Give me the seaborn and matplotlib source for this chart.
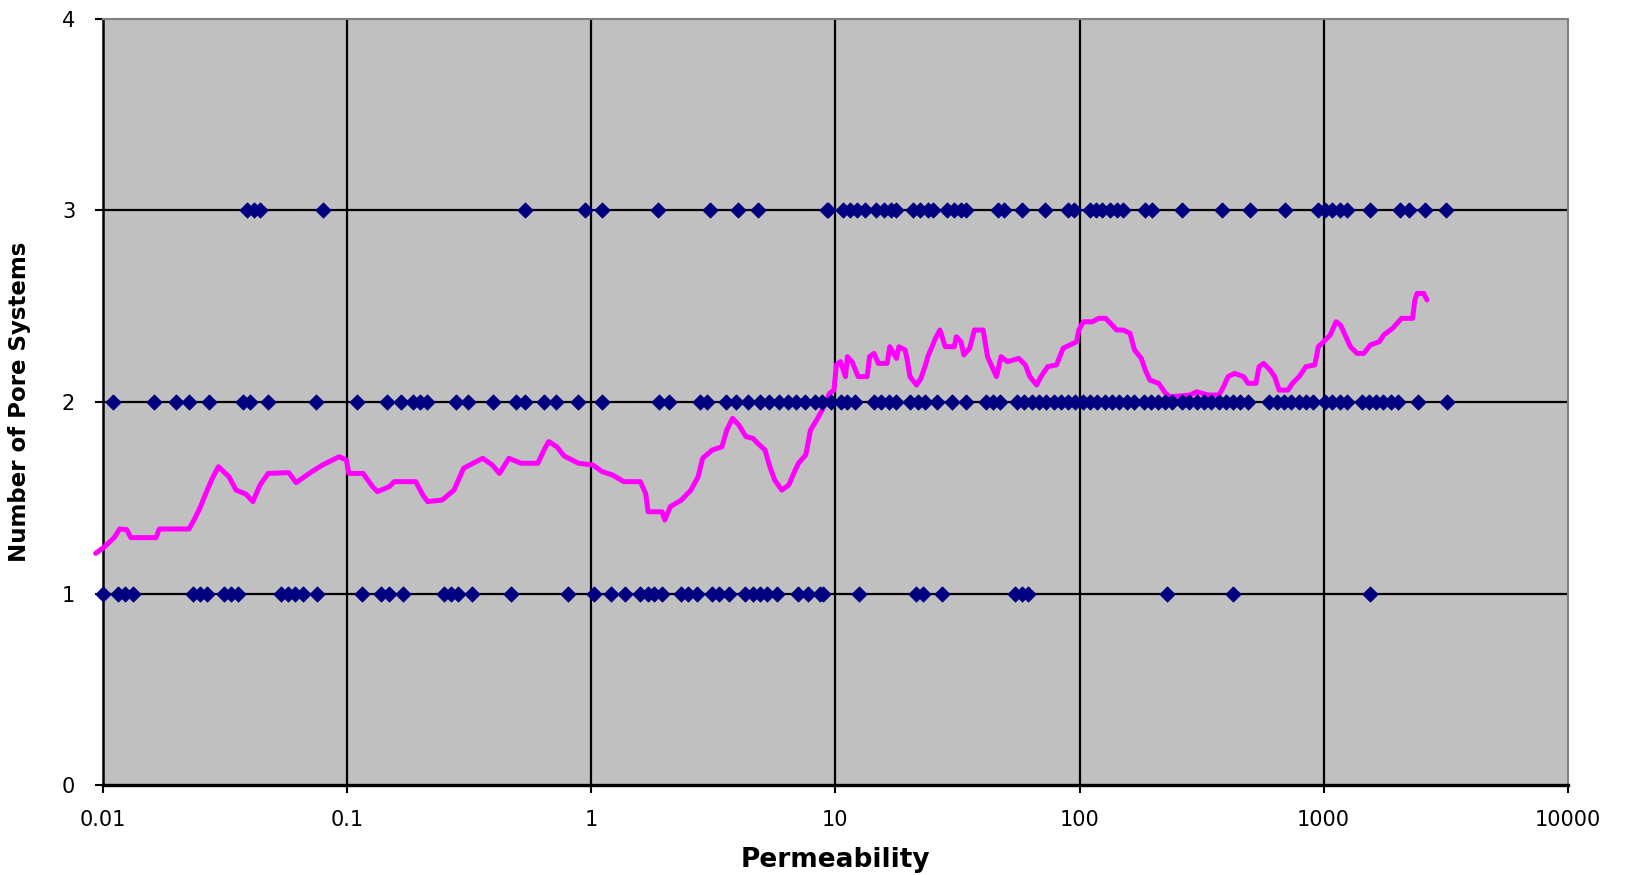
import numpy as np
import pandas as pd
import matplotlib
matplotlib.use("Agg")
import matplotlib.pyplot as plt
import seaborn as sns

# Permeability of samples, grouped by the number of pore systems counted
perm_three = [0.039, 0.0415, 0.0438, 0.080, 0.536, 0.944, 1.11, 1.88, 3.06, 4.0, 4.83, 9.2,
              9.34, 10.7, 11.5, 12.3, 13.2, 14.7, 15.8, 16.9, 17.7, 20.8, 22.3, 23.9, 25.0,
              28.6, 30.7, 32.8, 34.4, 46.3, 49.1, 58.2, 72.1, 89.9, 94.9, 110, 117, 124, 133,
              142, 150, 185, 198, 263, 385, 499, 697, 948, 1015, 1087, 1164, 1247, 1547,
              2062, 2229, 2592, 3157]
perm_two = [0.0110, 0.0162, 0.0199, 0.0226, 0.0272, 0.0374, 0.040, 0.0475, 0.0746, 0.110,
            0.145, 0.166, 0.186, 0.199, 0.212, 0.279, 0.312, 0.396, 0.490, 0.536, 0.642,
            0.719, 0.881, 1.11, 1.90, 2.08, 2.79, 2.98, 3.57, 3.91, 4.38, 4.90, 5.36, 5.87,
            6.42, 6.87, 7.52, 8.24, 8.81, 9.55, 10.5, 11.2, 12.0, 14.4, 15.4, 16.6, 17.7,
            20.3, 21.8, 23.3, 26.1, 30.0, 34.4, 41.3, 44.2, 47.3, 55.6, 59.5, 63.8, 68.3,
            73.1, 78.3, 83.9, 89.9, 96.2, 103, 110, 118, 127, 136, 145, 156, 167, 183, 196,
            209, 224, 240, 263, 282, 302, 323, 346, 371, 397, 425, 456, 488, 600, 643, 688,
            737, 789, 845, 905, 1015, 1087, 1164, 1247, 1430, 1532, 1640, 1757, 1883, 2016,
            2442, 3213]
perm_one = [0.0100, 0.01156, 0.01236, 0.01323, 0.0233, 0.0249, 0.0266, 0.0312, 0.0334,
            0.0357, 0.0536, 0.0574, 0.0614, 0.0657, 0.0752, 0.1155, 0.138, 0.148, 0.170,
            0.249, 0.266, 0.285, 0.326, 0.469, 0.806, 1.03, 1.21, 1.38, 1.58, 1.70, 1.81,
            1.94, 2.33, 2.49, 2.72, 3.12, 3.34, 3.66, 4.28, 4.58, 4.90, 5.25, 5.74, 7.03,
            7.69, 8.61, 8.92, 12.5, 21.3, 22.8, 27.4, 54.3, 58.2, 61.8, 228, 425, 1547]

# Running average of the pore-system count along permeability
avg_perm = [0.00933, 0.0101, 0.0111, 0.0117, 0.0125, 0.0130, 0.0165, 0.0170, 0.0225, 0.0235,
            0.0250, 0.0265, 0.0280, 0.0297, 0.0328, 0.0351, 0.0385, 0.0411, 0.0440, 0.0475,
            0.0577, 0.0618, 0.0707, 0.0793, 0.0927, 0.0993, 0.1016, 0.1162, 0.1272, 0.1331,
            0.1489, 0.1559, 0.1910, 0.2043, 0.2137, 0.2449, 0.2741, 0.300, 0.328, 0.359,
            0.393, 0.421, 0.460, 0.515, 0.604, 0.646, 0.670, 0.723, 0.774, 0.887, 1.015,
            1.11, 1.22, 1.36, 1.59, 1.67, 1.71, 1.95, 2.00, 2.11, 2.34, 2.56, 2.74, 2.86,
            3.13, 3.43, 3.59, 3.79, 4.02, 4.30, 4.60, 4.81, 5.15, 5.39, 5.64, 6.03, 6.45,
            6.75, 7.06, 7.56, 7.91, 8.46, 9.05, 9.47, 9.87, 10.09, 10.5, 11.0, 11.2, 11.7,
            12.4, 13.5, 13.8, 14.4, 15.0, 16.3, 16.7, 17.8, 18.2, 19.3, 19.7, 20.2, 21.5,
            22.4, 23.4, 23.9, 24.9, 25.7, 26.8, 28.2, 30.7, 31.3, 32.7, 33.6, 35.5, 37.1,
            40.3, 42.0, 43.8, 45.7, 47.7, 50.7, 56.4, 60.0, 62.6, 66.7, 69.5, 74.1, 80.5,
            85.7, 91.3, 97.3, 99.3, 103.7, 112.7, 120, 128, 136, 142, 151, 161, 168, 179,
            186, 194, 211, 225, 235, 284, 302, 336, 373, 389, 406, 432, 470, 490, 528, 544,
            568, 604, 630, 657, 715, 745, 794, 846, 920, 951, 1000, 1064, 1124, 1173, 1233,
            1287, 1371, 1460, 1554, 1690, 1762, 1916, 2000, 2084, 2314, 2365, 2415, 2572,
            2650]
avg_count = [1.211, 1.243, 1.292, 1.338, 1.335, 1.293, 1.293, 1.338, 1.338, 1.38, 1.45, 1.53,
             1.60, 1.663, 1.611, 1.541, 1.52, 1.481, 1.568, 1.628, 1.632, 1.580, 1.632, 1.672,
             1.715, 1.698, 1.628, 1.628, 1.559, 1.533, 1.559, 1.585, 1.585, 1.515, 1.481,
             1.489, 1.541, 1.655, 1.681, 1.707, 1.672, 1.628, 1.707, 1.681, 1.681, 1.759,
             1.794, 1.767, 1.719, 1.681, 1.672, 1.637, 1.620, 1.585, 1.585, 1.524, 1.428,
             1.428, 1.385, 1.455, 1.489, 1.541, 1.611, 1.707, 1.750, 1.767, 1.854, 1.915,
             1.881, 1.820, 1.811, 1.785, 1.750, 1.663, 1.594, 1.541, 1.568, 1.628, 1.681,
             1.724, 1.854, 1.915, 1.985, 2.046, 2.063, 2.194, 2.211, 2.133, 2.237, 2.211,
             2.133, 2.133, 2.237, 2.254, 2.202, 2.202, 2.289, 2.228, 2.289, 2.272, 2.220,
             2.133, 2.089, 2.124, 2.194, 2.237, 2.289, 2.333, 2.376, 2.289, 2.289, 2.341,
             2.315, 2.246, 2.281, 2.376, 2.376, 2.237, 2.185, 2.133, 2.237, 2.211, 2.228,
             2.194, 2.133, 2.089, 2.133, 2.185, 2.194, 2.281, 2.298, 2.315, 2.376, 2.419,
             2.419, 2.437, 2.437, 2.402, 2.376, 2.376, 2.359, 2.272, 2.228, 2.167, 2.115,
             2.098, 2.046, 2.028, 2.037, 2.054, 2.037, 2.037, 2.080, 2.133, 2.150, 2.133,
             2.098, 2.098, 2.185, 2.202, 2.167, 2.133, 2.063, 2.063, 2.098, 2.133, 2.185,
             2.194, 2.289, 2.315, 2.350, 2.419, 2.402, 2.341, 2.289, 2.254, 2.254, 2.298,
             2.315, 2.350, 2.385, 2.411, 2.437, 2.437, 2.533, 2.567, 2.567, 2.533]

x_ticks = [0.01, 0.1, 1, 10, 100, 1000, 10000]
x_tick_labels = ["0.01", "0.1", "1", "10", "100", "1000", "10000"]
y_ticks = [0, 1, 2, 3, 4]

samples = pd.DataFrame({
    "Permeability": perm_one + perm_two + perm_three,
    "Pore systems": [1] * len(perm_one) + [2] * len(perm_two) + [3] * len(perm_three),
})
running = pd.DataFrame({"Permeability": avg_perm, "Average": avg_count})

sns.set_theme(style="white")
plt.rcParams["font.family"] = ["DejaVu Sans"]

fig = plt.figure(figsize=(16.27, 8.75), dpi=100)
ax = fig.add_axes([0.0633, 0.1023, 0.9003, 0.8763])
ax.set_facecolor("#C0C0C0")

ax.set_xscale("log")
ax.set_xlim(0.01, 10000)
ax.set_ylim(0, 4)

# grid lines at the inner decades and counts
for xv in x_ticks[1:-1]:
    ax.axvline(xv, color="black", lw=1.6, zorder=1)
for yv in y_ticks[1:-1]:
    ax.axhline(yv, color="black", lw=1.6, zorder=1)

sns.lineplot(data=running, x="Permeability", y="Average", ax=ax, color="#FF00FF",
             lw=3.6, sort=False, estimator=None, zorder=3, clip_on=False)
sns.scatterplot(data=samples, x="Permeability", y="Pore systems", ax=ax, marker="D",
                s=55, color="#000080", edgecolor="#000080", linewidth=1.0, zorder=4,
                clip_on=False, legend=False)

ax.set_xticks(x_ticks)
ax.set_xticklabels(x_tick_labels)
ax.minorticks_off()
ax.set_yticks(y_ticks)
ax.set_yticklabels([str(v) for v in y_ticks])
ax.tick_params(axis="both", which="major", direction="out", length=6, width=1.5,
               color="black", labelsize=15, labelcolor="black", bottom=True, left=True)
ax.tick_params(axis="x", pad=12)
ax.tick_params(axis="y", pad=14)

for side in ("top", "right"):
    ax.spines[side].set_color("#808080")
    ax.spines[side].set_linewidth(1.5)
ax.spines["bottom"].set_color("black")
ax.spines["bottom"].set_linewidth(2.4)
ax.spines["left"].set_color("black")
ax.spines["left"].set_linewidth(1.8)

ax.set_xlabel("Permeability", fontsize=19, fontweight="bold", labelpad=12, color="black")
ax.set_ylabel("Number of Pore Systems", fontsize=16.5, fontweight="bold", labelpad=22,
              color="black")

fig.savefig("out.png", dpi=100, facecolor="white")
